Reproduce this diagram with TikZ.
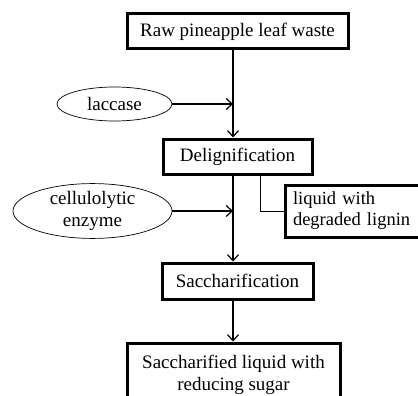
\documentclass[tikz,border=0pt]{standalone}
\usepackage{fontspec}
\setmainfont{Liberation Serif}
\usetikzlibrary{arrows.meta,shapes.geometric}
\begin{document}
\begin{tikzpicture}[x=1pt,y=-1pt,
  box/.style={draw,line width=3pt,rectangle,inner sep=2pt,font=\fontsize{19}{22}\selectfont,align=center},
  oval/.style={draw,line width=0.7pt,ellipse,inner sep=0pt,font=\fontsize{19}{21.5}\selectfont,align=center},
  flow/.style={line width=1.2pt,-{Straight Barb[length=6pt,width=11pt,line width=1.2pt]}},
  thin/.style={line width=0.7pt}]
\useasboundingbox[fill=white] (0,0) rectangle (418,396);
\coordinate (sp) at (233,0);
\node[box,minimum width=221pt,minimum height=35pt] (raw) at (237.5,31.5) {Raw pineapple leaf waste};
\node[box,minimum width=149pt,minimum height=35pt] (del) at (237.5,156.5) {Delignification};
\node[box,minimum width=151pt,minimum height=36pt] (sac) at (237.5,281) {Saccharification};
\node[box,minimum width=213pt,minimum height=64pt] (fin) at (233.5,375) {Saccharified liquid with\\reducing sugar};
\node[box,minimum width=150pt,minimum height=52pt,text width=134pt,align=left,font=\fontsize{18.5}{21}\selectfont] (liq) at (360,211) {liquid with\\degraded lignin};
\node[oval,minimum width=115pt,minimum height=34pt] (lac) at (114.5,104) {laccase};
\node[oval,minimum width=159pt,minimum height=53pt] (cel) at (92.5,211) {cellulolytic\\enzyme};
\draw[flow] (raw.south -| sp) -- (del.north -| sp);
\draw[flow] (del.south -| sp) -- (sac.north -| sp);
\draw[flow] (sac.south -| sp) -- (fin.north -| sp);
\draw[flow] (lac.east) -- (lac.east -| sp);
\draw[flow] (cel.east) -- (cel.east -| sp);
\coordinate (br) at (260,0);
\draw[thin] (del.south -| br) |- (liq.west);
\end{tikzpicture}
\end{document}
